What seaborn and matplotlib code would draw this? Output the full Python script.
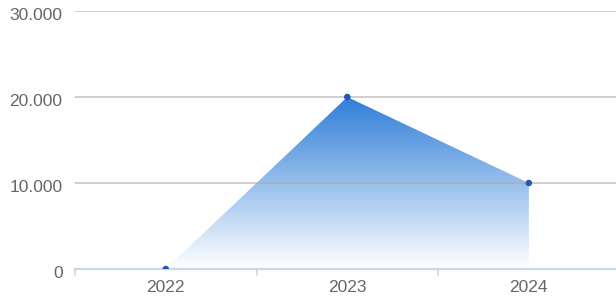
# Area chart with gradient fill, yearly totals

# --- imports --- #
import numpy as np
import pandas as pd
import matplotlib
matplotlib.use("Agg")
import matplotlib.pyplot as plt
import matplotlib.transforms as mtransforms
from matplotlib.patches import Polygon
from matplotlib.ticker import FuncFormatter
from matplotlib.colors import LinearSegmentedColormap
import seaborn as sns

# --- data --- #
years = ["2022", "2023", "2024"]
values = [0, 20000, 10000]
y_ticks = [0, 10000, 20000, 30000]

df = pd.DataFrame({"year": years, "value": values})
df["pos"] = np.arange(len(years))

# --- figure --- #
sns.set_style("white")
plt.rcParams["font.family"] = ["Liberation Sans", "DejaVu Sans"]

fig = plt.figure(figsize=(6.16, 3.02), dpi=100)
ax = fig.add_axes([75 / 616, 33 / 302, 541 / 616, 258 / 302])

## gradient fill clipped to the area under the line
verts = [(df["pos"].iloc[0], 0)] + list(zip(df["pos"], df["value"])) + [(df["pos"].iloc[-1], 0)]
poly = Polygon(verts, closed=True, facecolor="none", edgecolor="none")
ax.add_patch(poly)
cmap = LinearSegmentedColormap.from_list("grad", ["#ffffff", "#2f7ed8"])
grad = np.linspace(0, 1, 256).reshape(-1, 1)
img = ax.imshow(grad, cmap=cmap, aspect="auto", origin="lower",
                extent=[df["pos"].min(), df["pos"].max(), 0, max(values)],
                zorder=1, interpolation="bicubic")
img.set_clip_path(poly)

## gridlines above fill
for t in y_ticks[1:]:
	ax.axhline(t, color="#a8a8a8", lw=1.1, alpha=0.7, zorder=2)

## markers
sns.scatterplot(data=df, x="pos", y="value", color="#2456b5", s=22,
                edgecolor="none", zorder=4, ax=ax, legend=False)

## axes
ax.set_xlim(-0.5, 2.48)
ax.set_ylim(0, 30000)
ax.set_yticks(y_ticks)
ax.yaxis.set_major_formatter(FuncFormatter(lambda v, p: f"{int(v):,}".replace(",", ".")))
ax.set_xticks(df["pos"])
ax.set_xticklabels(years)
ax.set_xlabel("")
ax.set_ylabel("")
ax.tick_params(axis="both", length=0, labelsize=12.5, labelcolor="#666666")
ax.tick_params(axis="y", pad=9)
ax.tick_params(axis="x", pad=8)
shift = mtransforms.ScaledTranslation(0, -3 / 100, fig.dpi_scale_trans)
for lbl in ax.get_yticklabels():
	lbl.set_va("center_baseline")
	lbl.set_transform(lbl.get_transform() + shift)

for s in ["top", "right", "left"]:
	ax.spines[s].set_visible(False)
ax.spines["bottom"].set_color("#ccd6eb")
ax.spines["bottom"].set_linewidth(1.6)
ax.spines["bottom"].set_zorder(3)

## category boundary ticks
for b in [-0.5, 0.5, 1.5]:
	ax.plot([b, b], [0, -0.022], transform=ax.get_xaxis_transform(),
	        color="#ccd6eb", lw=1.2, clip_on=False, zorder=3)

ax.set_facecolor("white")
fig.savefig("out.png", dpi=100, facecolor="white")
plt.close()
